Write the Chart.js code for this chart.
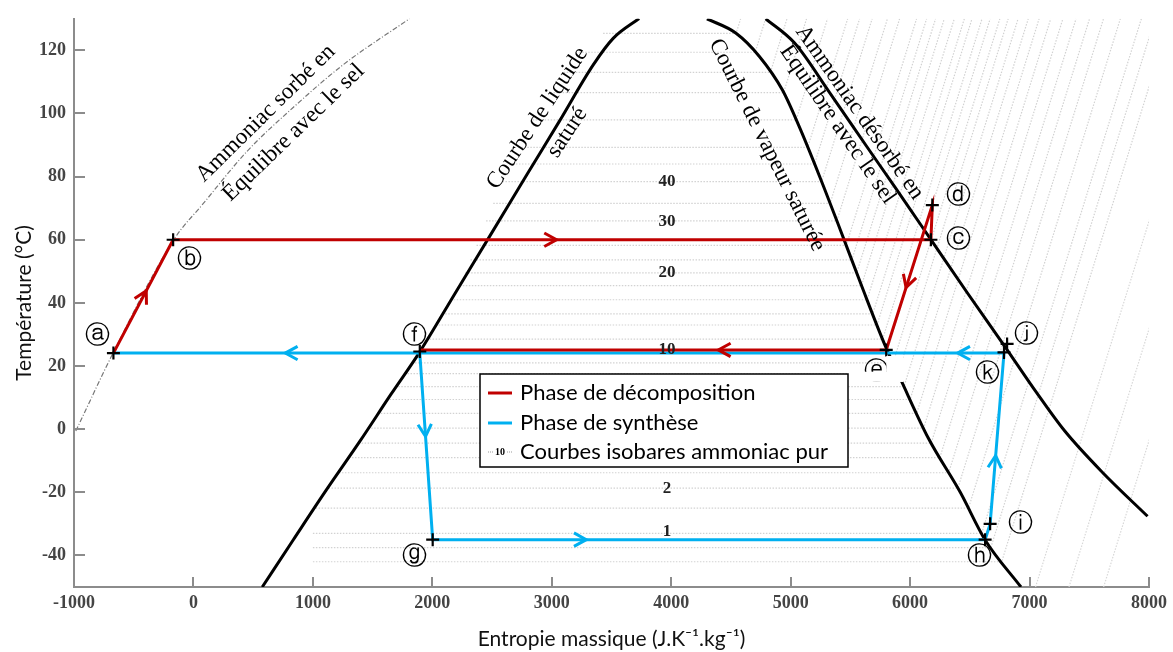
<!DOCTYPE html>
<html>
<head>
<meta charset="utf-8">
<script src="https://cdn.jsdelivr.net/npm/chart.js@4.4.0/dist/chart.umd.min.js"></script>
<style>
  html, body { margin: 0; padding: 0; background: #fff; }
</style>
</head>
<body>
<canvas id="chart" width="1173" height="652"></canvas>
<script>
// axis ticks
const xTicks = [-1000, 0, 1000, 2000, 3000, 4000, 5000, 6000, 7000, 8000];
const yTicks = [-40, -20, 0, 20, 40, 60, 80, 100, 120];

// saturation curves of pure ammonia (S in J/K/kg, T in °C)
const liquidS = [576, 835, 1110, 1394, 1653, 1895, 2195, 2496, 2796, 3063, 3347, 3514, 3731];
const liquidT = [-50, -35.1, -19.4, -3.8, 11, 24.5, 43.3, 62.1, 80.9, 97.5, 115.4, 123.8, 130.1];
const vaporS = [4299, 4540, 4740, 4930, 5070, 5240, 5401, 5593, 5793, 5918, 6152, 6420, 6628, 6928];
const vaporT = [130, 125.5, 118, 107.5, 96, 80.3, 64.6, 45.5, 26.3, 16, -2.8, -20, -35.1, -50];

// equilibrium curves with the salt
const desorbS = [4791, 5033, 5326, 5634, 5876, 6177, 6477, 6795, 7053, 7295, 7613, 7988];
const desorbT = [130, 122.3, 106.6, 89.7, 76.5, 59.9, 43.3, 26.1, 11.9, -0.6, -13.8, -27.6];
const sorbS = [-985, -668, -167, 83, 451, 835, 1252, 1811];
const sorbT = [-0.6, 24.5, 59.9, 71.5, 88.1, 101.9, 115.4, 130.1];

// cycle paths
const decompS = [-670, -170, 6174, 6186, 5800, 1895];
const decompT = [24.1, 60, 60, 71, 25.1, 25.1];
const synthS = [-670, 6786, 6670, 6628, 2003, 1895];
const synthT = [24.1, 24.1, -30, -35, -35, 24.1];

// state points
const pointNames = ['ⓐ', 'ⓑ', 'ⓒ', 'ⓓ', 'ⓔ', 'ⓕ', 'ⓖ', 'ⓗ', 'ⓘ', 'ⓙ', 'ⓚ'];
const pointS = [-670, -170, 6174, 6186, 5800, 1895, 2003, 6628, 6670, 6812, 6786];
const pointT = [24.1, 60, 60, 71, 25.1, 24.6, -35, -35, -30, 27, 24.3];
const nameS = [-801, -33, 6402, 6402, 5718, 1853, 1853, 6578, 6928, 6978, 6644];
const nameT = [29.2, 53.3, 59.9, 73.7, 17.9, 29.2, -40.8, -40.8, -30.1, 29.8, 17.2];

// isobars: saturation temperature, start on liquid side, end on vapour side, end at top (T=130)
const isoT = [-42, -37.5, -33, -25, -18.7, -13.8, -9, -4.4, 0.3, 5, 9.4, 13.5, 17.6, 21, 25, 28.5, 33, 36.5, 41, 45.5, 49.5, 53.6, 58.2, 66, 71.5, 78.4, 84, 89.3, 98, 106.6, 113, 119.4, 125.4];
const isoSliq = [1000, 1000, 1000, 1023, 1131, 1218, 1302, 1383, 1463, 1543, 1617, 1690, 1767, 1830, 1905, 1977, 2053, 2108, 2179, 2230, 2275, 2320, 2370, 2450, 2510, 2587, 2650, 2720, 2840, 2990, 3100, 3230, 3430];
const isoSvap = [6767, 6676, 6599, 6489, 6400, 6323, 6249, 6177, 6113, 6055, 6000, 5949, 5899, 5857, 5809, 5770, 5723, 5687, 5640, 5593, 5553, 5512, 5465, 5387, 5330, 5259, 5200, 5143, 5046, 4941, 4830, 4703, 4543];
const isoStop = [8177, 8050, 7936, 7760, 7619, 7502, 7389, 7279, 7177, 7080, 6989, 6904, 6821, 6751, 6670, 6602, 6518, 6454, 6370, 6286, 6213, 6138, 6054, 5912, 5810, 5682, 5577, 5477, 5308, 5133, 4969, 4790, 4581];
const lowIsoS = [7050, 7330, 7620];
const lowIsoStop = [8526, 8806, 9096];

// isobar labels (bar)
const isoLabels = ['40', '30', '20', '10', '2', '1'];
const isoLabelT = [78.4, 65.8, 49.5, 25.1, -18.8, -32.6];
const isoLabelS = 3965;

// arrows: [path, from index, to index, fraction]
const arrows = [
  ['decomp', 0, 1, 0.55], ['decomp', 1, 2, 0.506], ['decomp', 3, 4, 0.57], ['decomp', 4, 5, 0.36],
  ['synth', 1, 0, 0.807], ['synth', 1, 0, 0.052], ['synth', 5, 4, 0.447], ['synth', 4, 3, 0.278], ['synth', 2, 1, 0.40]
];

// rotated captions: text, S, T, angle (deg)
const captions = [
  ['Ammoniac sorbé en', 605, 100, -44.6],
  ['Équilibre avec le sel', 839, 93.9, -44],
  ['Courbe de liquide', 2880, 98.5, -56.5],
  ['saturé', 3130, 94, -56.5],
  ['Courbe de vapeur saturée', 4800, 90, 63.4],
  ['Ammoniac désorbé en', 5576, 100.3, 55],
  ['Équilibre avec le sel', 5392, 96.5, 55.5]
];

const legendLabels = ['Phase de décomposition', 'Phase de synthèse', 'Courbes isobares ammoniac pur'];

const RED = '#c00000';
const BLUE = '#00b0f0';

function pts(xs, ys) {
  return xs.map((v, i) => ({ x: v, y: ys[i] }));
}

const isoLines = isoT.map((t, i) => ({
  data: [{ x: isoSliq[i], y: t }, { x: isoSvap[i], y: t }, { x: isoStop[i], y: 130 }],
  showLine: true, borderColor: '#d2d2d2', borderWidth: 1.2, borderDash: [1.5, 1.5], pointRadius: 0, tension: 0
}));
const lowIsoLines = lowIsoS.map((s, i) => ({
  data: [{ x: s, y: -50 }, { x: lowIsoStop[i], y: 130 }],
  showLine: true, borderColor: '#d8d8d8', borderWidth: 1.2, borderDash: [1.5, 1.5], pointRadius: 0, tension: 0
}));

const curve = (xs, ys) => ({
  data: pts(xs, ys), showLine: true, borderColor: '#000', borderWidth: 3, pointRadius: 0,
  cubicInterpolationMode: 'monotone'
});

const datasets = [
  {
    data: pts(pointS, pointT), pointStyle: 'cross', pointRadius: 6.5, borderColor: '#000', borderWidth: 2.2, showLine: false
  },
  { data: pts(decompS, decompT), showLine: true, borderColor: RED, borderWidth: 3, pointRadius: 0, tension: 0 },
  { data: pts(synthS, synthT), showLine: true, borderColor: BLUE, borderWidth: 3, pointRadius: 0, tension: 0 },
  curve(liquidS, liquidT),
  curve(vaporS, vaporT),
  curve(desorbS, desorbT),
  {
    data: pts(sorbS, sorbT), showLine: true, borderColor: '#777', borderWidth: 1.2,
    borderDash: [5, 2, 1, 2], pointRadius: 0, cubicInterpolationMode: 'monotone'
  },
  ...isoLines,
  ...lowIsoLines
];

const overlay = {
  id: 'overlay',
  afterDatasetsDraw(chart) {
    const { ctx, scales: { x, y } } = chart;
    const px = s => x.getPixelForValue(s);
    const py = t => y.getPixelForValue(t);
    ctx.save();

    // isobar labels
    ctx.fillStyle = '#222';
    ctx.font = 'bold 17px "Liberation Serif"';
    ctx.textAlign = 'center';
    ctx.textBaseline = 'middle';
    isoLabels.forEach((l, i) => ctx.fillText(l, px(isoLabelS), py(isoLabelT[i])));

    // arrow heads
    const paths = { decomp: [decompS, decompT, RED], synth: [synthS, synthT, BLUE] };
    arrows.forEach(([p, a, b, f]) => {
      const [ss, ts, col] = paths[p];
      const x0 = px(ss[a]), y0 = py(ts[a]), x1 = px(ss[b]), y1 = py(ts[b]);
      const tx = x0 + (x1 - x0) * f, ty = y0 + (y1 - y0) * f;
      const ang = Math.atan2(y1 - y0, x1 - x0);
      const L = 14, w = 0.5;
      ctx.strokeStyle = col;
      ctx.lineWidth = 3;
      ctx.beginPath();
      ctx.moveTo(tx - L * Math.cos(ang - w), ty - L * Math.sin(ang - w));
      ctx.lineTo(tx, ty);
      ctx.lineTo(tx - L * Math.cos(ang + w), ty - L * Math.sin(ang + w));
      ctx.stroke();
    });

    // captions along curves
    ctx.fillStyle = '#000';
    ctx.font = '23px "Liberation Serif"';
    captions.forEach(([txt, s, t, deg]) => {
      ctx.save();
      ctx.translate(px(s), py(t));
      ctx.rotate(deg * Math.PI / 180);
      ctx.fillText(txt, 0, 0);
      ctx.restore();
    });

    // point names
    ctx.font = '25px "DejaVu Sans"';
    pointNames.forEach((n, i) => ctx.fillText(n, px(nameS[i]), py(nameT[i])));

    // white patch hiding part of the vapour curve and label e
    ctx.fillStyle = '#fff';
    ctx.fillRect(px(5484), py(18.2), px(5943) - px(5484), py(15) - py(18.2));
    ctx.fillRect(px(5801), py(23.2), px(5943) - px(5801), py(15) - py(23.2));

    // legend box
    const lx = 480, ly = 374, lw = 368, lh = 93;
    ctx.fillRect(lx, ly, lw, lh);
    ctx.strokeStyle = '#000';
    ctx.lineWidth = 1.5;
    ctx.strokeRect(lx, ly, lw, lh);
    const rowY = [ly + 19, ly + 49, ly + 78];
    ctx.lineWidth = 3;
    ctx.strokeStyle = RED;
    ctx.beginPath(); ctx.moveTo(lx + 8, rowY[0]); ctx.lineTo(lx + 32, rowY[0]); ctx.stroke();
    ctx.strokeStyle = BLUE;
    ctx.beginPath(); ctx.moveTo(lx + 8, rowY[1]); ctx.lineTo(lx + 32, rowY[1]); ctx.stroke();
    ctx.strokeStyle = '#999';
    ctx.lineWidth = 1;
    ctx.setLineDash([1, 1]);
    ctx.beginPath();
    ctx.moveTo(lx + 8, rowY[2]); ctx.lineTo(lx + 13, rowY[2]);
    ctx.moveTo(lx + 27, rowY[2]); ctx.lineTo(lx + 32, rowY[2]);
    ctx.stroke();
    ctx.setLineDash([]);
    ctx.fillStyle = '#000';
    ctx.font = 'bold 10px "Liberation Serif"';
    ctx.fillText('10', lx + 20, rowY[2]);
    ctx.textAlign = 'left';
    ctx.font = '22px Lato';
    legendLabels.forEach((l, i) => ctx.fillText(l, lx + 40, rowY[i]));

    ctx.restore();
  },
  afterDraw(chart) {
    const { ctx, chartArea: ca, scales: { x, y } } = chart;
    ctx.save();
    ctx.strokeStyle = '#8c8c8c';
    ctx.lineWidth = 2;
    ctx.beginPath();
    xTicks.forEach(v => {
      const p = Math.round(x.getPixelForValue(v));
      ctx.moveTo(p, ca.bottom); ctx.lineTo(p, ca.bottom - 10);
    });
    yTicks.forEach(v => {
      const p = Math.round(y.getPixelForValue(v));
      ctx.moveTo(ca.left, p); ctx.lineTo(ca.left + 11, p);
    });
    ctx.stroke();
    ctx.restore();
  }
};

const tickFont = { family: 'Liberation Serif', weight: 'bold', size: 18 };
const titleFont = { family: 'Lato', size: 21 };

new Chart(document.getElementById('chart').getContext('2d'), {
  type: 'scatter',
  data: { datasets: datasets },
  options: {
    responsive: false,
    animation: false,
    layout: { padding: { top: 13, right: 21, left: 0, bottom: 0 } },
    plugins: { legend: { display: false }, tooltip: { enabled: false } },
    scales: {
      x: {
        type: 'linear', min: -1000, max: 8000,
        afterBuildTicks: s => { s.ticks = xTicks.map(v => ({ value: v })); },
        afterFit: s => { s.height = 65; },
        grid: { display: false, drawTicks: false },
        border: { color: '#8c8c8c', width: 2 },
        ticks: { font: tickFont, color: '#444', padding: 6, maxRotation: 0, autoSkip: false, callback: v => String(v) },
        title: { display: true, text: 'Entropie massique (J.K⁻¹.kg⁻¹)', font: titleFont, color: '#111', padding: { top: 0, bottom: 0 } }
      },
      y: {
        type: 'linear', min: -50, max: 130,
        afterBuildTicks: s => { s.ticks = yTicks.map(v => ({ value: v })); },
        afterFit: s => { s.width = 74; },
        grid: { display: false, drawTicks: false },
        border: { color: '#8c8c8c', width: 2 },
        ticks: { font: tickFont, color: '#444', padding: 8, callback: v => String(v) },
        title: { display: true, text: 'Température (°C)', font: titleFont, color: '#111', padding: { top: 12, bottom: 0 } }
      }
    }
  },
  plugins: [overlay]
});
</script>
</body>
</html>
